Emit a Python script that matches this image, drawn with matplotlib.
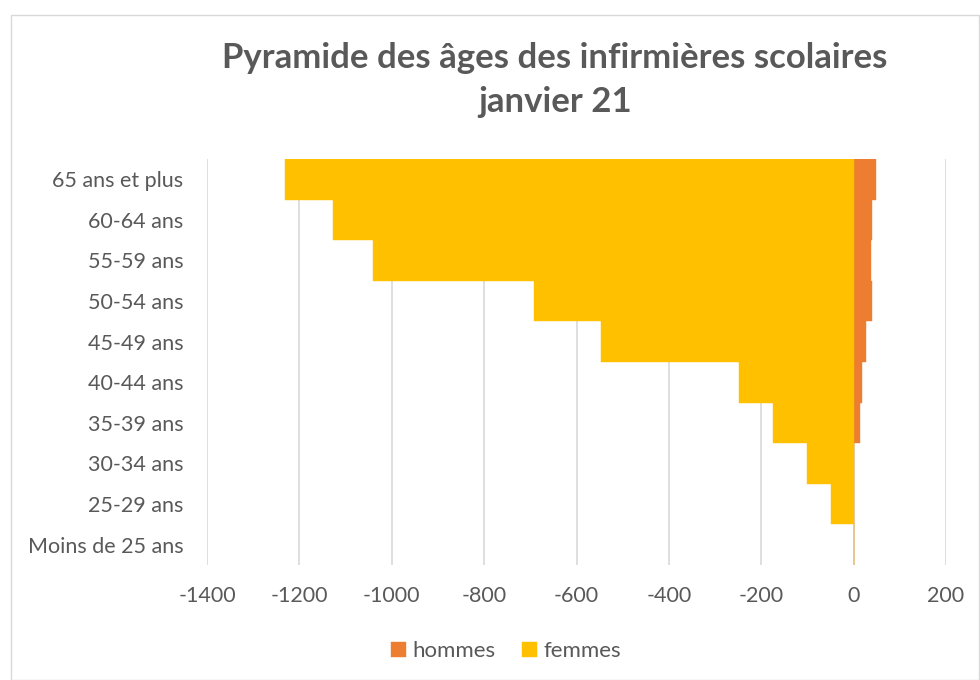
import numpy as np
import matplotlib.pyplot as plt
from matplotlib.patches import Rectangle

plt.rcParams['font.family'] = ['Lato', 'DejaVu Sans']

categories = ['65 ans et plus', '60-64 ans', '55-59 ans', '50-54 ans', '45-49 ans',
              '40-44 ans', '35-39 ans', '30-34 ans', '25-29 ans', 'Moins de 25 ans']
hommes = [48, 39, 38, 39, 26, 19, 13, 0, 0, 0]
femmes = [-1231, -1128, -1041, -691, -546, -248, -175, -102, -48, 0]
xticks = [-1400, -1200, -1000, -800, -600, -400, -200, 0, 200]

grey = '#595959'
fig = plt.figure(figsize=(9.8, 6.8), dpi=100)
fig.patches.append(Rectangle((0.011, 0.0), 0.988, 0.978, transform=fig.transFigure,
                             fill=False, edgecolor='#d9d9d9', lw=1))
ax = fig.add_axes([207/980, 1 - 565/680, (946 - 207)/980, (565 - 159)/680])

y = np.arange(len(categories))
ax.barh(y, hommes, height=1.0, color='#ED7D31', edgecolor='#ED7D31', lw=0.3, label='hommes', zorder=3)
ax.barh(y, femmes, height=1.0, color='#FFC000', edgecolor='#FFC000', lw=0.3, label='femmes', zorder=3)

ax.set_xlim(-1400, 200)
ax.set_ylim(len(categories) - 0.5, -0.5)
ax.set_xticks(xticks)
ax.set_xticklabels([str(t) for t in xticks])
ax.set_yticks(y)
ax.set_yticklabels(categories)
ax.grid(axis='x', color='#d9d9d9', lw=1.2, zorder=0)
ax.tick_params(length=0, labelsize=15.5, colors=grey)
ax.tick_params(axis='y', pad=17)
ax.tick_params(axis='x', pad=15)
for s in ax.spines.values():
    s.set_visible(False)

fig.text(555/980, 1 - 80/680, 'Pyramide des âges des infirmières scolaires\njanvier 21',
         ha='center', va='center', fontsize=25, fontweight='bold', color=grey, linespacing=1.45)

ax.legend(loc='center', bbox_to_anchor=(506/980, 1 - 651/680), bbox_transform=fig.transFigure,
          ncol=2, frameon=False, fontsize=16, labelcolor=grey, handlelength=0.65,
          handleheight=0.65, handletextpad=0.3, columnspacing=1.2)

fig.savefig('out.png', dpi=100)
